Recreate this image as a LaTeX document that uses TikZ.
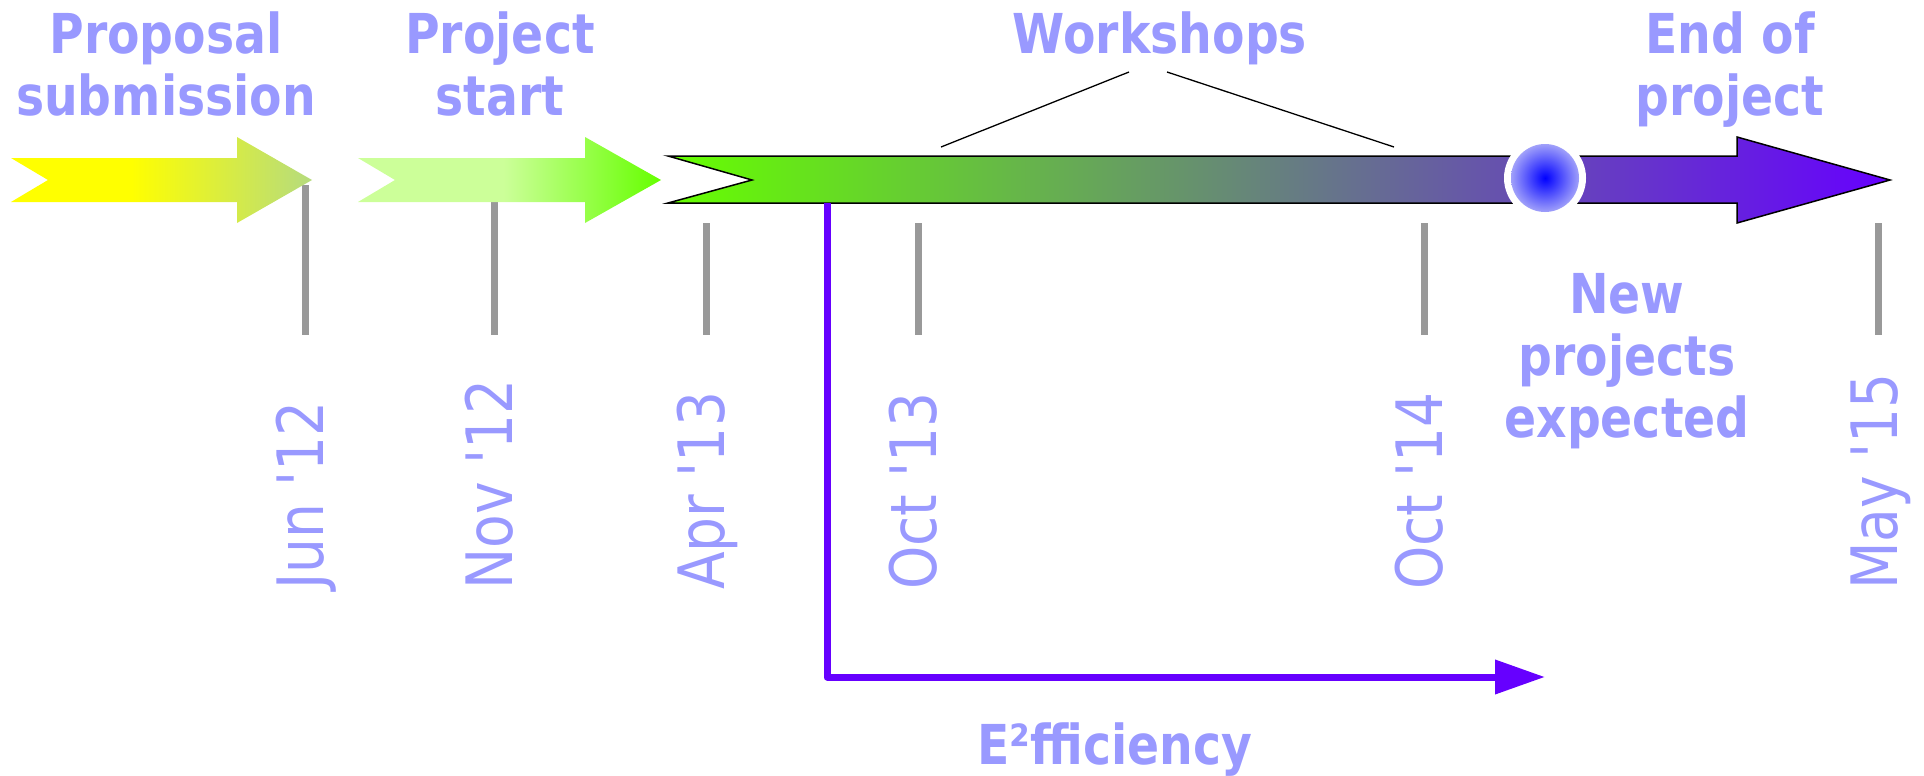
\documentclass[tikz,border=0pt]{standalone}
\usepackage{fontspec}
\newfontfamily\lblfont[FakeStretch=0.86,Ligatures=TeXOff]{DejaVu Sans}
\usetikzlibrary{arrows.meta}
\definecolor{txt}{HTML}{9999FF}
\definecolor{tickgray}{HTML}{999999}
\definecolor{purp}{HTML}{6600FF}
\definecolor{ylw}{HTML}{FFFF00}
\definecolor{tipA}{HTML}{B5DB7E}
\definecolor{lgrn}{HTML}{CCFF99}
\definecolor{bgrn}{HTML}{66FF00}
\definecolor{dotblue}{HTML}{0000FF}
\definecolor{dotedge}{HTML}{A0A0FA}
\pgfdeclarehorizontalshading{shA}{100bp}{color(0bp)=(ylw); color(45bp)=(ylw); color(75bp)=(tipA); color(100bp)=(tipA)}
\pgfdeclarehorizontalshading{shB}{100bp}{color(0bp)=(lgrn); color(49bp)=(lgrn); color(75bp)=(bgrn); color(100bp)=(bgrn)}
\pgfdeclarehorizontalshading{shMain}{100bp}{color(0bp)=(bgrn); color(25bp)=(bgrn); color(75bp)=(purp); color(100bp)=(purp)}
\tikzset{
  titletext/.style={text=txt, font=\lblfont\bfseries\fontsize{55}{62}\selectfont, align=center, inner sep=0pt, anchor=base},
  datetext/.style={text=txt, font=\lblfont\fontsize{64}{70}\selectfont, inner sep=0pt, rotate=90, anchor=base west},
  ticksty/.style={draw=tickgray, line width=7pt},
  thinline/.style={draw=black, line width=1.3pt},
  effline/.style={draw=purp, line width=7pt, line join=round, -{Triangle[length=50pt,width=33pt]}},
}
\begin{document}
\begin{tikzpicture}[x=1pt,y=-1pt]
\useasboundingbox (0,0) rectangle (1924,776);
% ticks
\draw[ticksty] (305,185) -- (305,335);
\draw[ticksty] (494,200) -- (494,335);
\draw[ticksty] (706,223) -- (706,335);
\draw[ticksty] (918,223) -- (918,335);
\draw[ticksty] (1424,223) -- (1424,335);
\draw[ticksty] (1878,223) -- (1878,335);
% arrows
\shade[shading=shA] (11,158) -- (237,158) -- (237,137) -- (312,180) -- (237,223) -- (237,202) -- (11,202) -- (48,180) -- cycle;
\shade[shading=shB] (358,158) -- (585,158) -- (585,137) -- (661,180) -- (585,223) -- (585,202) -- (358,202) -- (395,180) -- cycle;
\draw[line width=1.5pt, shading=shMain, shade] (668,156) -- (1737,156) -- (1737,137) -- (1890,180) -- (1737,223) -- (1737,203) -- (668,203) -- (752,180) -- cycle;
% dot
\node[circle, fill=white, minimum size=82pt, inner sep=0pt] (dotring) at (1545,178) {};
\shade[inner color=dotblue, outer color=dotedge] (1545,178) circle (34);
% E2fficiency connector
\coordinate (effStart) at (827,203);
\coordinate (effEnd) at (1545,677);
\draw[effline] (effStart) |- (effEnd);
% titles (anchor base = baseline of last line)
\node[titletext] (prop) at (166,115) {Proposal\\submission};
\node[titletext] (start) at (500,115) {Project\\start};
\node[titletext] (work) at (1160,53) {Workshops};
\node[titletext] (endp) at (1730,115) {End of\\project};
\node[titletext] (newp) at (1627,437) {New\\projects\\expected};
\node[titletext] (eff) at (1115,764) {E²fficiency};
% workshop lines
\coordinate (wl1) at (1129,72);
\coordinate (wl2) at (941,147);
\coordinate (wr1) at (1167,72);
\coordinate (wr2) at (1394,147);
\draw[thinline] (wl1) -- (wl2);
\draw[thinline] (wr1) -- (wr2);
% dates
\node[datetext] (d1) at (323,590) {Jun '12};
\node[datetext] (d2) at (512,590) {Nov '12};
\node[datetext] (d3) at (724,590) {Apr '13};
\node[datetext] (d4) at (936,590) {Oct '13};
\node[datetext] (d5) at (1442,590) {Oct '14};
\node[datetext] (d6) at (1897,590) {May '15};
\end{tikzpicture}
\end{document}
